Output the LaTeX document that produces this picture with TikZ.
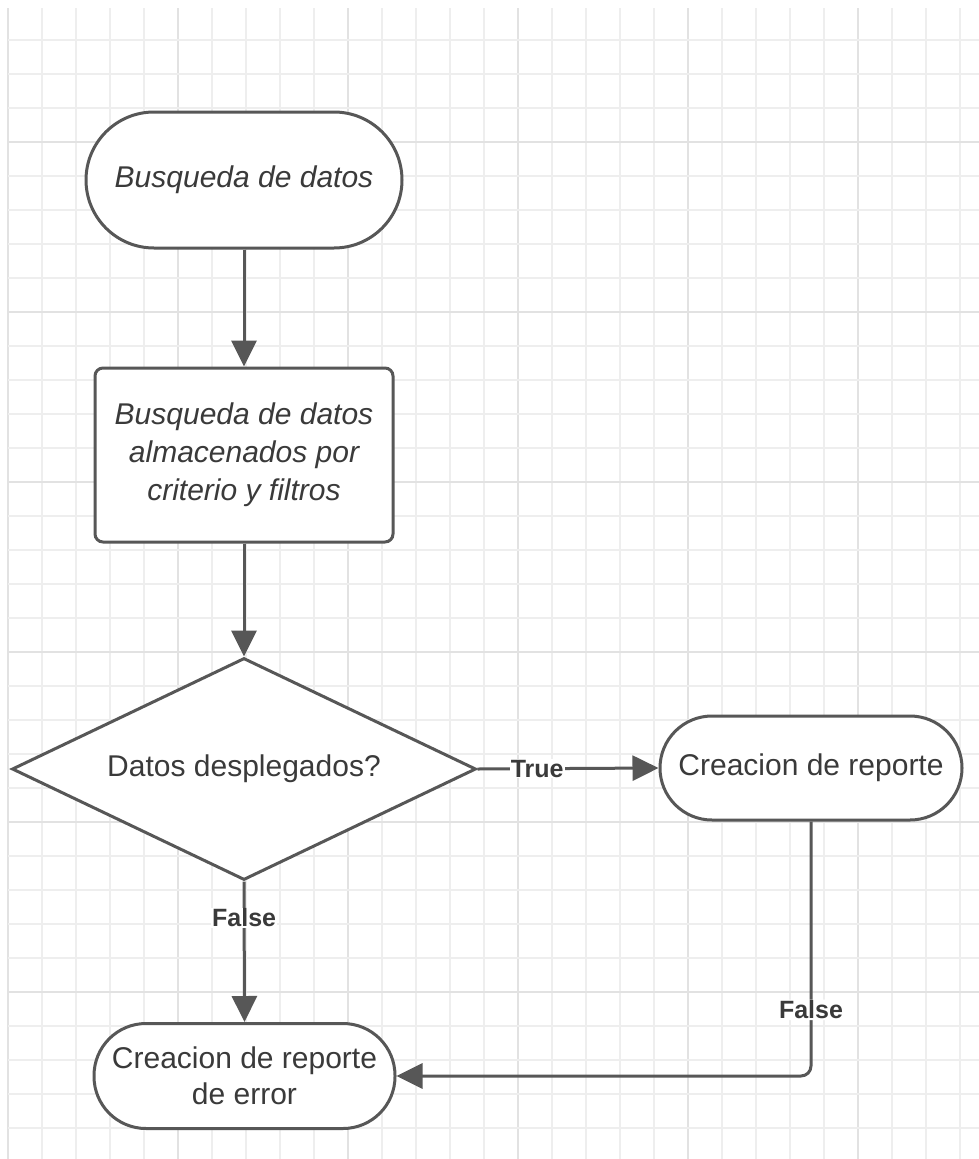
\documentclass[tikz,border=0pt]{standalone}
\usepackage{fontspec}
\setmainfont{Liberation Sans}
\usetikzlibrary{shapes.geometric,arrows.meta,calc}
\definecolor{gridlight}{HTML}{EEEEEE}
\definecolor{griddark}{HTML}{E2E2E2}
\definecolor{stroke}{HTML}{575757}
\definecolor{ink}{HTML}{3A3A3A}
\tikzset{
  shapebase/.style={draw=stroke, line width=3pt, fill=white, text=ink,
    align=center, inner sep=0pt, font=\fontsize{30}{38}\selectfont},
  terminal/.style={shapebase, rectangle, rounded corners=#1},
  procbox/.style={shapebase, rectangle, rounded corners=8pt},
  decision/.style={shapebase, diamond, shape aspect=2.09,
    minimum width=464pt, minimum height=222pt},
  flow/.style={draw=stroke, line width=3pt, -{Triangle[length=26pt,width=25pt]}},
  edgelabel/.style={fill=white, text=ink, inner sep=1pt,
    font=\fontsize{25}{25}\selectfont\bfseries}
}
\begin{document}
\begin{tikzpicture}[x=1pt,y=-1pt]
  \useasboundingbox (0,0) rectangle (979,1159);
  \fill[white] (0,0) rectangle (979,1159);
  % background grid, every fifth line a little darker
  \foreach \k in {0,...,28}{
    \pgfmathtruncatemacro{\m}{mod(\k,5)}
    \ifnum\m=0 \def\gc{griddark}\else\def\gc{gridlight}\fi
    \draw[\gc, line width=2pt] ({8+34*\k},8) -- ({8+34*\k},1159);
  }
  \foreach \k in {1,...,33}{
    \pgfmathtruncatemacro{\m}{mod(\k,5)}
    \ifnum\m=4 \def\gc{griddark}\else\def\gc{gridlight}\fi
    \draw[\gc, line width=2pt] (8,{6+34*\k}) -- (979,{6+34*\k});
  }

  % flowchart nodes
  \node[terminal=68pt, minimum width=316pt, minimum height=136pt] (start) at (244,180)
    {\itshape Busqueda de datos};
  \node[procbox, minimum width=298pt, minimum height=174pt] (search) at (244,455)
    {\itshape Busqueda de datos\\ \itshape almacenados por\\ \itshape criterio y filtros};
  \node[decision] (check) at (244,769) {Datos desplegados?};
  \node[terminal=52pt, minimum width=302pt, minimum height=104pt] (report) at (811,768)
    {Creacion de reporte};
  \node[terminal=52pt, minimum width=301pt, minimum height=105pt,
    font=\fontsize{30}{36}\selectfont] (error) at (244.5,1076)
    {Creacion de reporte\\ de error};

  % connectors
  \draw[flow] (start) -- (search);
  \draw[flow] (search) -- (check);
  \draw[flow] (check.east) -- node[edgelabel, pos=0.33] {True} (report.west);
  \draw[flow] (check.south) -- node[edgelabel, pos=0.26] {False} (error.north);
  \draw[flow, rounded corners=10pt] (report.south) |- node[edgelabel, pos=0.37] {False} (error.east);
\end{tikzpicture}
\end{document}
